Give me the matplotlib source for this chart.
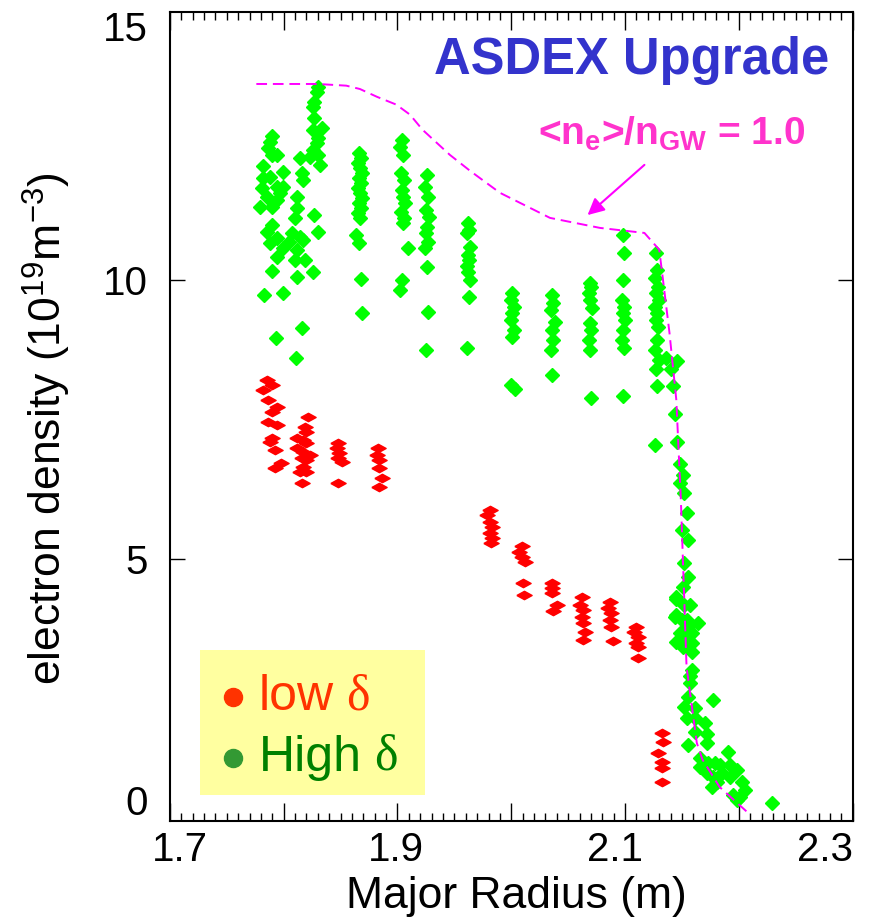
import matplotlib
matplotlib.use('Agg')
import matplotlib.pyplot as plt
from matplotlib.patches import Rectangle
from matplotlib.ticker import MultipleLocator
from matplotlib.transforms import ScaledTranslation

plt.rcParams['font.family'] = ['Liberation Sans', 'DejaVu Sans']
plt.rcParams['mathtext.fontset'] = 'custom'
plt.rcParams['mathtext.rm'] = 'Liberation Sans'
plt.rcParams['mathtext.it'] = 'Liberation Sans:italic'
plt.rcParams['mathtext.bf'] = 'Liberation Sans:bold'

# Greenwald density profile  <n_e>/n_GW = 1.0
gw_R = [1.776, 1.830, 1.855, 1.867, 1.882, 1.899, 1.911, 1.922, 1.946, 1.964,
        1.990, 2.034, 2.078, 2.117, 2.130, 2.133, 2.139, 2.145, 2.149, 2.152,
        2.154, 2.163, 2.168, 2.183, 2.210]
gw_n = [13.51, 13.51, 13.48, 13.42, 13.28, 13.14, 12.96, 12.69, 12.24, 11.95,
        11.56, 11.11, 10.93, 10.84, 10.54, 10.05, 9.05, 7.85, 6.06, 4.27,
        3.06, 1.70, 1.40, 0.91, 0.41]

# high triangularity (green)
high_R = [
    # R ~ 1.78 - 1.83
    1.790, 1.788, 1.786, 1.790, 1.794, 1.782, 1.799, 1.814, 1.816, 1.817,
    1.782, 1.788, 1.781, 1.794, 1.799, 1.797, 1.785, 1.794, 1.790, 1.779,
    1.812, 1.812, 1.810, 1.827, 1.830, 1.790, 1.785, 1.794, 1.788, 1.807,
    1.814, 1.817, 1.805, 1.799, 1.812, 1.794, 1.819, 1.810, 1.790, 1.812,
    1.826, 1.783, 1.799, 1.816, 1.793, 1.811,
    1.830, 1.829, 1.827, 1.826, 1.827, 1.826, 1.834, 1.830, 1.829, 1.826,
    1.830, 1.832, 1.823,
    # R ~ 1.867
    1.866, 1.868, 1.865, 1.867, 1.869, 1.866, 1.868, 1.865, 1.867, 1.869,
    1.866, 1.868, 1.865, 1.867, 1.864, 1.866, 1.868, 1.869,
    # R ~ 1.905
    1.904, 1.902, 1.905, 1.903, 1.906, 1.904, 1.905, 1.907, 1.903, 1.906,
    1.905, 1.904, 1.902, 1.909,
    # R ~ 1.926
    1.926, 1.924, 1.927, 1.925, 1.928, 1.926, 1.925, 1.927, 1.924, 1.926,
    1.927, 1.925,
    # R ~ 1.962
    1.962, 1.963, 1.961, 1.964, 1.962, 1.963, 1.961, 1.962, 1.964, 1.963, 1.961,
    # R ~ 2.00
    2.001, 2.000, 2.002, 2.001, 2.000, 2.002, 2.001, 2.000, 2.003,
    # R ~ 2.036
    2.036, 2.037, 2.035, 2.038, 2.036, 2.037, 2.035, 2.036,
    # R ~ 2.069
    2.069, 2.070, 2.068, 2.069, 2.071, 2.069, 2.070, 2.068, 2.069, 2.070,
    # R ~ 2.098
    2.098, 2.099, 2.098, 2.097, 2.099, 2.098, 2.100, 2.098, 2.097, 2.099, 2.098,
    # R ~ 2.13
    2.127, 2.128, 2.126, 2.129, 2.127, 2.130, 2.126, 2.128, 2.127, 2.129,
    2.128, 2.126, 2.130, 2.127, 2.128, 2.126,
    # steep edge
    2.136, 2.140, 2.146, 2.142, 2.144, 2.146, 2.148, 2.151,
    2.148, 2.152, 2.154, 2.150, 2.155, 2.152, 2.155, 2.151, 2.145, 2.152,
    2.145, 2.154, 2.148, 2.154, 2.151,
    2.145, 2.157, 2.144, 2.150, 2.164, 2.155, 2.150, 2.159, 2.145, 2.159,
    2.159, 2.159, 2.157, 2.157, 2.155, 2.177, 2.152, 2.161, 2.154, 2.161,
    2.170, 2.161, 2.172, 2.172, 2.155, 2.190, 2.166, 2.166, 2.173, 2.179,
    2.183, 2.192, 2.198, 2.172, 2.177, 2.185, 2.181, 2.176, 2.192, 2.203,
    2.205, 2.195, 2.201, 2.198, 2.229,
]
high_n = [
    12.58, 12.47, 12.37, 12.24, 12.24, 12.04, 11.94, 12.19, 11.92, 11.79,
    11.83, 11.85, 11.65, 11.67, 11.67, 11.56, 11.49, 11.43, 11.31, 11.31,
    11.49, 11.29, 11.11, 11.16, 10.86, 10.99, 10.86, 10.75, 10.66, 10.84,
    10.77, 10.72, 10.68, 10.57, 10.54, 10.41, 10.36, 10.36, 10.16, 10.05,
    10.14, 9.73, 9.77, 9.14, 8.96, 8.60,
    13.46, 13.37, 13.19, 13.10, 12.90, 12.69, 12.72, 12.54, 12.46, 12.33,
    12.24, 12.06, 12.20,
    12.28, 12.19, 12.10, 12.01, 11.92, 11.83, 11.74, 11.65, 11.56, 11.47,
    11.38, 11.29, 11.20, 11.11, 10.81, 10.66, 10.02, 9.41,
    12.51, 12.38, 12.24, 11.92, 11.79, 11.61, 11.49, 11.38, 11.22, 11.11,
    11.02, 10.00, 9.82, 10.57,
    11.88, 11.67, 11.49, 11.25, 11.13, 10.95, 10.84, 10.68, 10.57, 10.23,
    9.43, 8.75,
    11.02, 10.90, 10.84, 10.59, 10.45, 10.36, 10.25, 10.14, 10.00, 9.70, 8.78,
    9.77, 9.64, 9.52, 9.41, 9.28, 9.10, 8.98, 8.12, 8.05,
    9.73, 9.59, 9.46, 9.25, 9.10, 8.92, 8.75, 8.30,
    9.95, 9.87, 9.77, 9.64, 9.50, 9.23, 9.10, 8.92, 8.75, 7.88,
    10.81, 10.48, 10.00, 9.64, 9.52, 9.41, 9.28, 9.10, 8.92, 8.78, 7.92,
    10.48, 10.18, 10.04, 9.87, 9.77, 9.64, 9.52, 9.41, 9.28, 9.16,
    8.92, 8.75, 8.57, 8.40, 8.10, 7.04,
    8.60, 8.40, 8.55, 8.10, 7.60, 7.10, 6.70, 6.50,
    6.36, 6.18, 5.82, 5.52, 5.34, 4.93, 4.68, 4.50, 4.32, 4.18,
    4.00, 3.91, 3.67, 3.55, 3.42,
    4.27, 4.18, 3.96, 3.91, 3.85, 3.78, 3.64, 3.67, 3.51, 3.49,
    3.32, 3.01, 2.89, 2.78, 2.53, 2.47, 2.35, 2.33, 2.15, 2.15,
    2.06, 1.90, 1.85, 1.70, 1.67, 1.54, 1.43, 1.27, 1.34, 1.34,
    1.31, 1.31, 1.22, 1.16, 1.09, 1.16, 1.00, 0.91, 1.09, 0.99,
    0.86, 0.77, 0.73, 0.68, 0.63,
]

# low triangularity (red)
low_R = [
    1.785, 1.790, 1.782, 1.786, 1.794, 1.790, 1.786, 1.794, 1.790, 1.788,
    1.792, 1.798, 1.792,
    1.821, 1.819, 1.820, 1.812, 1.817, 1.820, 1.812, 1.817, 1.823, 1.816,
    1.820, 1.817, 1.814, 1.820, 1.816,
    1.848, 1.847, 1.849, 1.848, 1.851, 1.848,
    1.883, 1.882, 1.884, 1.884, 1.886, 1.884,
    1.981, 1.979, 1.981, 1.983, 1.981, 1.983, 1.982,
    2.009, 2.007, 2.009, 2.012, 2.010, 2.011,
    2.036, 2.036, 2.036, 2.040, 2.037,
    2.062, 2.060, 2.063, 2.062, 2.063, 2.065, 2.063,
    2.087, 2.085, 2.088, 2.087, 2.088, 2.089,
    2.110, 2.108, 2.111, 2.110, 2.111, 2.111,
    2.132, 2.133, 2.129, 2.132, 2.132, 2.132,
]
low_n = [
    8.21, 8.12, 8.03, 7.85, 7.72, 7.63, 7.46, 7.40, 7.17, 7.10,
    6.95, 6.72, 6.63,
    7.54, 7.37, 7.28, 7.17, 7.13, 7.08, 6.99, 6.92, 6.86, 6.81,
    6.77, 6.65, 6.56, 6.56, 6.36,
    7.08, 6.99, 6.90, 6.81, 6.74, 6.36,
    6.99, 6.86, 6.77, 6.63, 6.45, 6.29,
    5.88, 5.79, 5.66, 5.57, 5.47, 5.38, 5.29,
    5.22, 5.13, 5.04, 4.95, 4.57, 4.35,
    4.57, 4.48, 4.39, 4.18, 4.07,
    4.32, 4.18, 4.09, 3.96, 3.85, 3.69, 3.55,
    4.23, 4.12, 4.03, 3.91, 3.78, 3.53,
    3.78, 3.69, 3.60, 3.49, 3.41, 3.23,
    1.88, 1.72, 1.52, 1.36, 1.25, 1.00,
]

xtick_vals = [1.7, 1.8, 1.9, 2.0, 2.1, 2.2, 2.3]
xtick_labels = ['1.7', '', '1.9', '', '2.1', '', '2.3']
ytick_vals = [0.68, 5, 10, 14.55]
ytick_labels = ['0', '5', '10', '15']

fig = plt.figure(figsize=(8.71, 9.24), dpi=100)
ax = fig.add_axes([0.195, 0.1115, 0.784, 0.8755])

flat_diamond = [(-1, 0), (0, 0.55), (1, 0), (0, -0.55), (-1, 0)]

ax.plot(high_R, high_n, linestyle='none', marker='D', ms=7.5,
        color='#00ff00', mec='#00ff00', zorder=3)
ax.plot(low_R, low_n, linestyle='none', marker=flat_diamond, ms=11,
        color='#ff0000', mec='#ff0000', zorder=3)
ax.plot(gw_R, gw_n, color='#ff00ff', lw=1.4, dashes=(5.5, 3), zorder=4)

ax.set_xlim(1.7, 2.3)
ax.set_ylim(0.3, 14.8)
ax.set_xticks(xtick_vals)
ax.set_xticklabels(xtick_labels)
ax.xaxis.set_minor_locator(MultipleLocator(0.01))
ax.set_yticks(ytick_vals)
ax.set_yticklabels(ytick_labels)
ax.tick_params(which='both', direction='in', top=True, right=True, width=1)
ax.tick_params(which='major', length=13, labelsize=29)
ax.tick_params(axis='x', which='major', pad=7)
ax.tick_params(axis='y', which='major', length=11, pad=16)
ax.tick_params(which='minor', length=6)
# the 0 and 15 labels carry no tick marks in the original
for i in (0, -1):
    t = ax.yaxis.get_major_ticks()[i]
    t.tick1line.set_visible(False)
    t.tick2line.set_visible(False)
# x labels are nudged a little off their ticks in the original
xlabs = ax.get_xticklabels()
for lab, dx in zip(xlabs, [0.10, 0, -0.02, 0, -0.10, 0, 0]):
    lab.set_transform(lab.get_transform()
                      + ScaledTranslation(dx, 0, fig.dpi_scale_trans))
xlabs[-1].set_horizontalalignment('right')
for s in ax.spines.values():
    s.set_linewidth(1.5)

ax.set_xlabel('Major Radius (m)', fontsize=32)
ax.xaxis.set_label_coords(0.508, -0.068)
ax.set_ylabel('electron density (10$^{19}$m$^{-3}$)', fontsize=32)
ax.yaxis.set_label_coords(-0.142, 0.485)

ax.text(0.966, 0.94, 'ASDEX Upgrade', transform=ax.transAxes, ha='right',
        va='center', fontsize=36.5, fontweight='bold', color='#3333cc')
ax.text(0.93, 0.85, r'<n$_\mathbf{e}$>/n$_\mathbf{GW}$ = 1.0',
        transform=ax.transAxes, ha='right', va='center', fontsize=28,
        fontweight='bold', color='#ff33cc')
ax.annotate('', xy=(2.067, 11.16), xytext=(2.117, 12.06),
            arrowprops=dict(arrowstyle='-|>', color='#ff00ff', lw=1.5,
                            mutation_scale=25, shrinkA=0, shrinkB=0))

# legend box
ax.add_patch(Rectangle((0.044, 0.032), 0.329, 0.179, transform=ax.transAxes,
                       facecolor='#ffffa0', edgecolor='none', zorder=1))
ax.plot([0.092], [0.153], 'o', ms=13, color='#ff3300', transform=ax.transAxes,
        zorder=5)
ax.plot([0.092], [0.078], 'o', ms=13, color='#339933', transform=ax.transAxes,
        zorder=5)
t1 = ax.text(0.130, 0.153, 'low', transform=ax.transAxes, ha='left',
             va='center', fontsize=36, color='#ff3300', zorder=5)
ax.annotate('δ', xy=(1, 0), xycoords=t1, xytext=(9, 0),
            textcoords='offset points', ha='left', va='bottom', fontsize=36,
            family='Liberation Serif', color='#ff3300', zorder=5)
t2 = ax.text(0.130, 0.078, 'High', transform=ax.transAxes, ha='left',
             va='center', fontsize=36, color='#008000', zorder=5)
ax.annotate('δ', xy=(1, 0), xycoords=t2, xytext=(9, 0),
            textcoords='offset points', ha='left', va='bottom', fontsize=36,
            family='Liberation Serif', color='#008000', zorder=5)

fig.savefig('out.png', dpi=100)
